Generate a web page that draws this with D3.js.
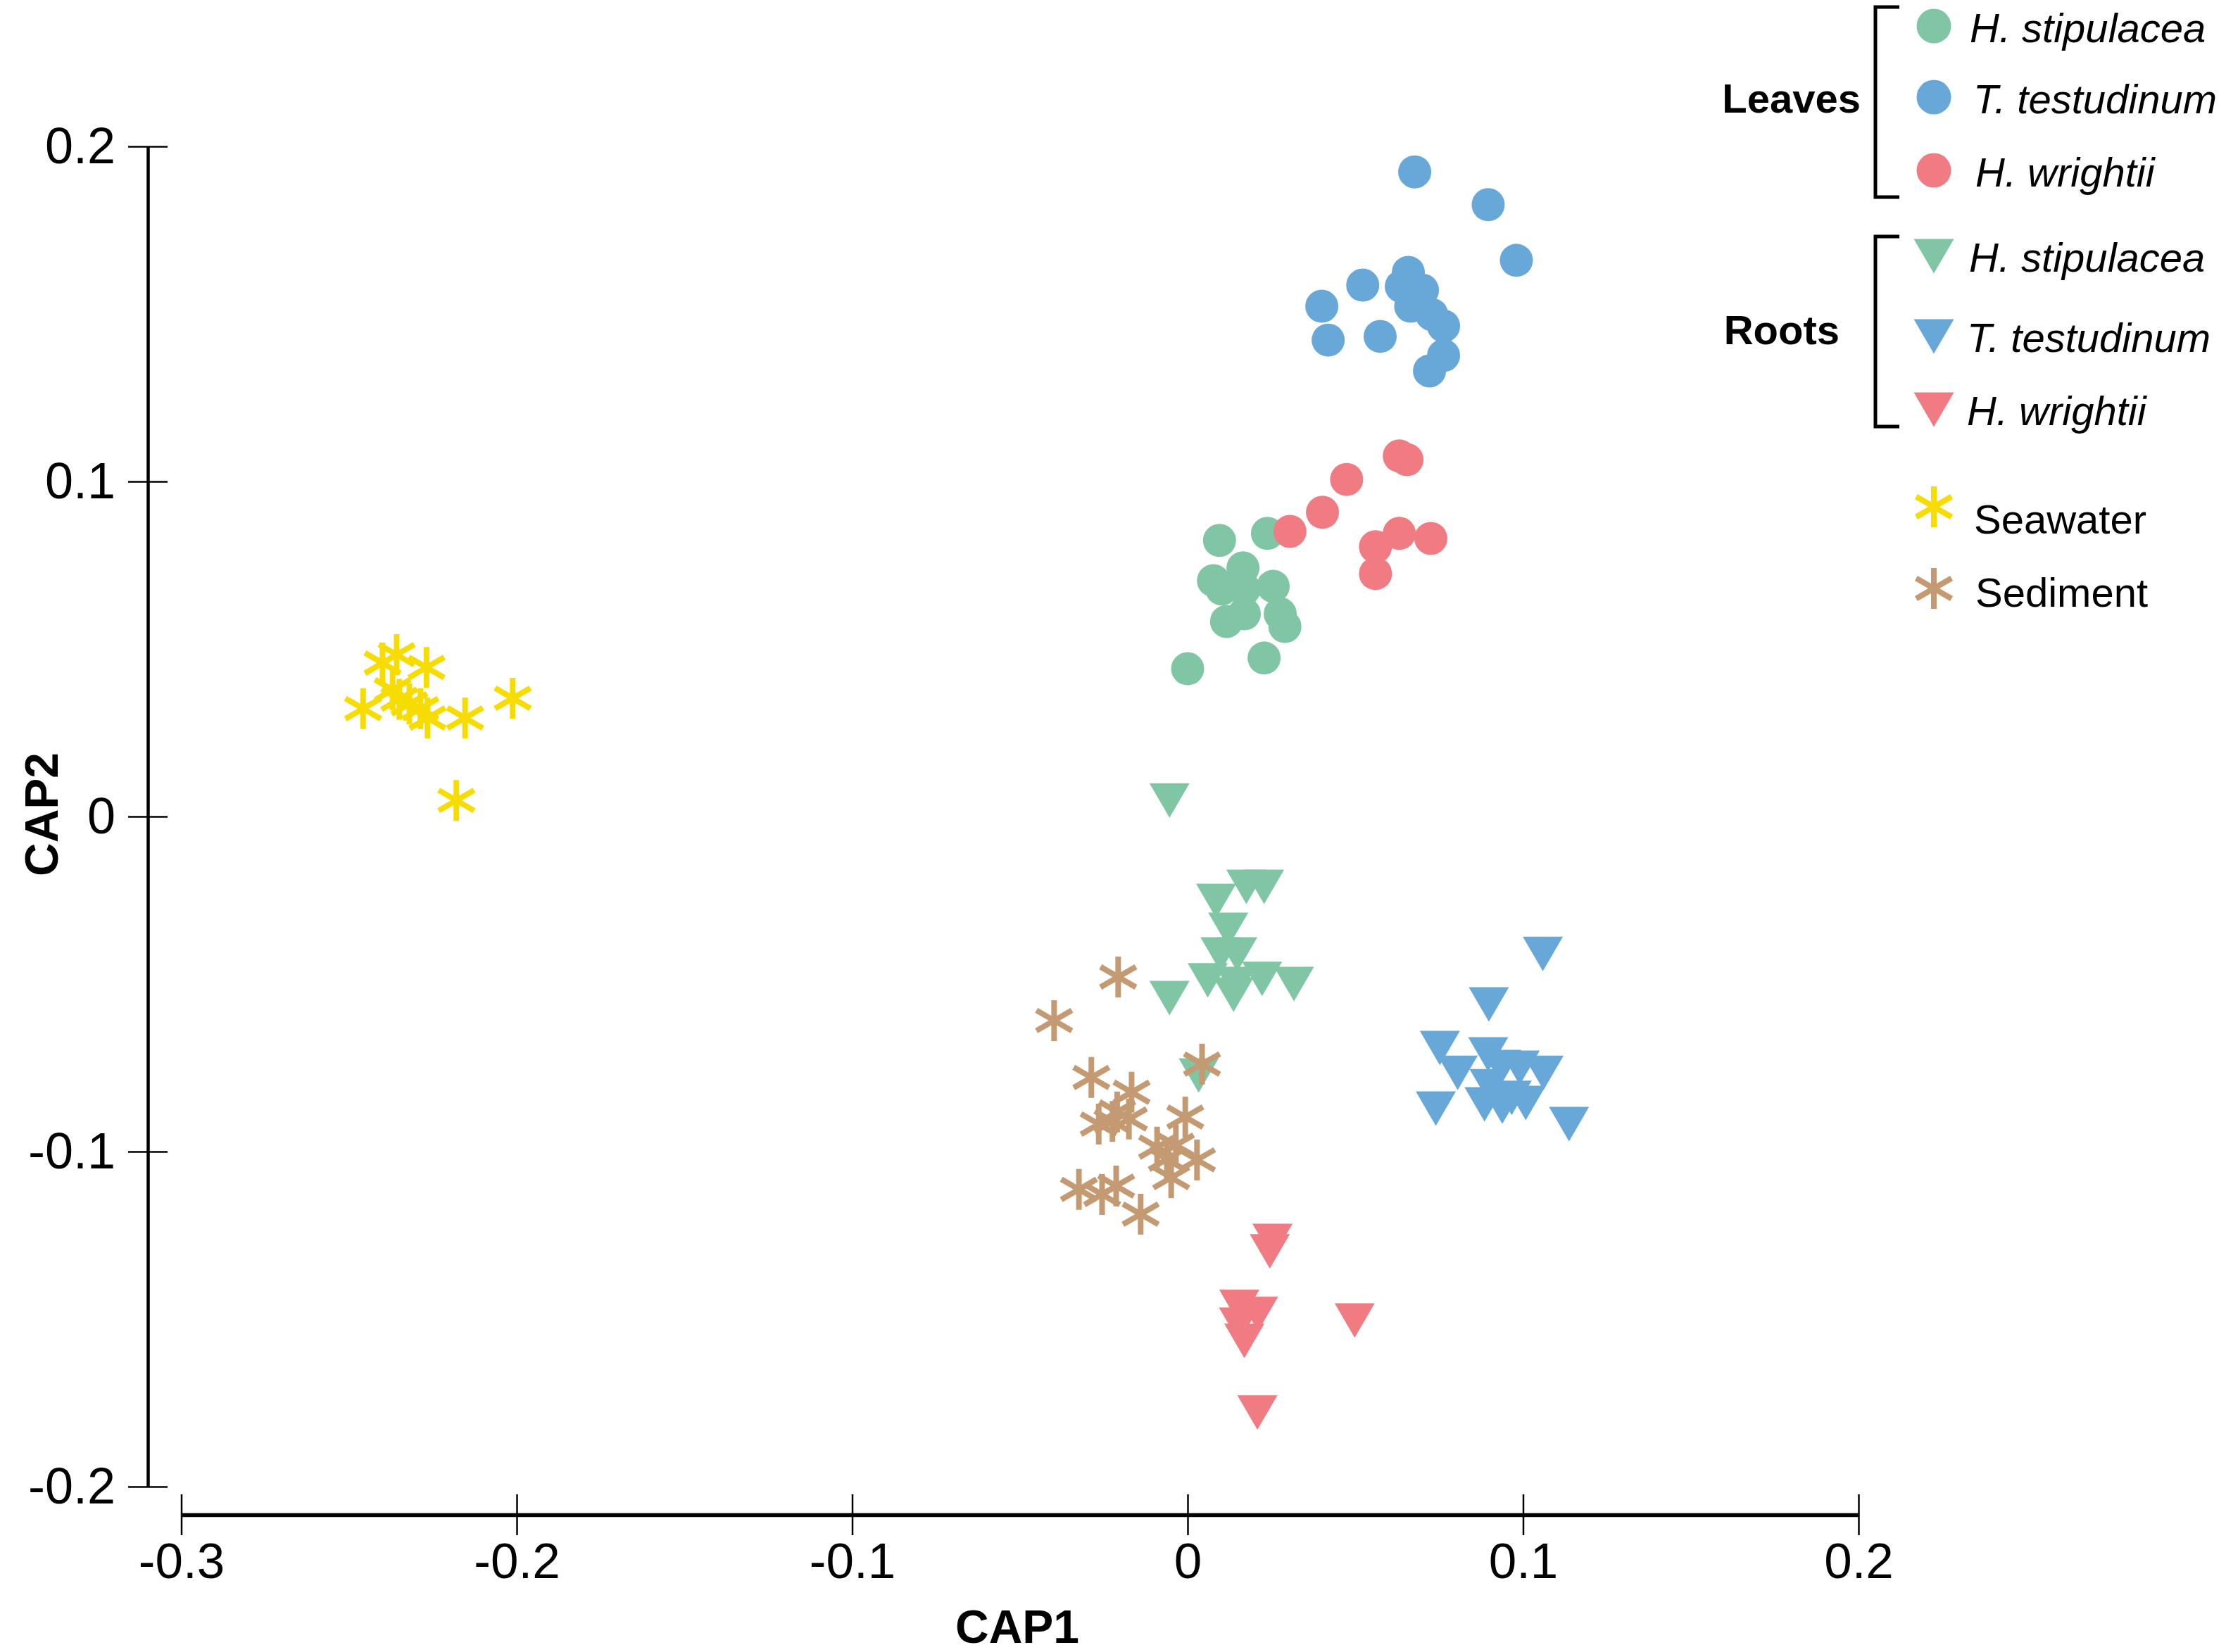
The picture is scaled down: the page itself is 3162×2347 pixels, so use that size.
<!DOCTYPE html>
<html>
<head>
<meta charset="utf-8">
<script src="https://cdn.jsdelivr.net/npm/d3@7"></script>
<style>
  html, body { margin: 0; padding: 0; background: #fff; }
  svg { display: block; }
  text { font-family: "Liberation Sans", Arial, Helvetica, sans-serif; fill: #000; }
</style>
</head>
<body>
<svg id="chart" width="3162" height="2347"></svg>
<script>
// ---------------- DATA ----------------
const xTicks = [-0.3, -0.2, -0.1, 0, 0.1, 0.2];
const yTicks = [-0.2, -0.1, 0, 0.1, 0.2];
const xTickLabels = ["-0.3", "-0.2", "-0.1", "0", "0.1", "0.2"];
const yTickLabels = ["-0.2", "-0.1", "0", "0.1", "0.2"];

// Leaves (circles)
const leavesHStipulacea = [
  [0.0095, 0.0824], [0.0238, 0.0845], [0.0165, 0.0742], [0.0077, 0.0704],
  [0.0102, 0.0679], [0.0255, 0.0687], [0.0169, 0.0679], [0.0169, 0.0605],
  [0.0116, 0.0582], [0.0276, 0.0605], [0.0290, 0.0567], [0.0228, 0.0473],
  [0.0000, 0.0441]
];
const leavesTTestudinum = [
  [0.0677, 0.1924], [0.0896, 0.1826], [0.0980, 0.1660], [0.0522, 0.1586],
  [0.0400, 0.1523], [0.0419, 0.1422], [0.0574, 0.1433], [0.0658, 0.1624],
  [0.0637, 0.1582], [0.0700, 0.1571], [0.0665, 0.1523], [0.0679, 0.1548],
  [0.0728, 0.1498], [0.0763, 0.1464], [0.0763, 0.1376], [0.0721, 0.1330]
];
const leavesHWrightii = [
  [0.0631, 0.1076], [0.0654, 0.1065], [0.0474, 0.1006], [0.0402, 0.0908],
  [0.0305, 0.0851], [0.0631, 0.0845], [0.0725, 0.0830], [0.0560, 0.0805],
  [0.0560, 0.0725]
];
// Roots (down triangles)
const rootsHStipulacea = [
  [-0.0054, 0.0048], [0.0175, -0.0210], [0.0228, -0.0210], [0.0085, -0.0252],
  [0.0121, -0.0338], [0.0098, -0.0412], [0.0148, -0.0412], [0.0060, -0.0489],
  [0.0144, -0.0500], [0.0222, -0.0485], [0.0317, -0.0500], [0.0137, -0.0532],
  [-0.0054, -0.0542], [0.0033, -0.0773]
];
const rootsTTestudinum = [
  [0.1059, -0.0410], [0.0898, -0.0561], [0.0752, -0.0691], [0.0896, -0.0710],
  [0.0805, -0.0765], [0.0990, -0.0750], [0.1061, -0.0765], [0.0935, -0.0748],
  [0.0900, -0.0805], [0.0885, -0.0859], [0.0938, -0.0866], [0.1008, -0.0855],
  [0.0966, -0.0840], [0.0740, -0.0872], [0.1137, -0.0918]
];
const rootsHWrightii = [
  [0.0253, -0.1267], [0.0245, -0.1298], [0.0154, -0.1464], [0.0210, -0.1485],
  [0.0153, -0.1517], [0.0169, -0.1565], [0.0498, -0.1504], [0.0208, -0.1779]
];
// Seawater & Sediment (asterisks)
const seawater = [
  [-0.2358, 0.0483], [-0.2400, 0.0458], [-0.2269, 0.0445], [-0.2458, 0.0322],
  [-0.2370, 0.0378], [-0.2350, 0.0350], [-0.2320, 0.0336], [-0.2287, 0.0322],
  [-0.2266, 0.0294], [-0.2154, 0.0294], [-0.2012, 0.0353], [-0.2180, 0.0048]
];
const sediment = [
  [-0.0207, -0.0479], [-0.0398, -0.0609], [-0.0287, -0.0779], [-0.0167, -0.0823],
  [0.0043, -0.0739], [-0.0007, -0.0897], [-0.0265, -0.0918], [-0.0224, -0.0910],
  [-0.0175, -0.0903], [-0.0210, -0.0882], [-0.0091, -0.0987], [-0.0035, -0.0981],
  [0.0028, -0.1025], [-0.0062, -0.1023], [-0.0049, -0.1078], [-0.0324, -0.1113],
  [-0.0255, -0.1128], [-0.0213, -0.1103], [-0.0140, -0.1187]
];

const colors = {
  green: "#80c6a5",
  blue: "#68a8d8",
  red: "#f07b83",
  yellow: "#f6dc00",
  brown: "#c39a72"
};

const legendLeaves = ["H. stipulacea", "T. testudinum", "H. wrightii"];
const legendRoots = ["H. stipulacea", "T. testudinum", "H. wrightii"];
const legendOther = ["Seawater", "Sediment"];

// ---------------- CHART ----------------
const svg = d3.select("#chart");
const x = d3.scaleLinear().domain([-0.3, 0.2]).range([257.5, 2640]);
const y = d3.scaleLinear().domain([-0.2, 0.2]).range([2112, 208]);

const R = 23.5;          // circle radius
const TW = 57, TH = 49;  // triangle width / height
const SL = 29;           // asterisk half-length
const SW = 8;            // asterisk stroke width

function triPath(cx, cy) {
  return `M${cx - TW / 2},${cy - TH / 2}L${cx + TW / 2},${cy - TH / 2}L${cx},${cy + TH / 2}Z`;
}
function starPath(cx, cy) {
  const a = Math.PI / 6;
  const dx = SL * Math.cos(a), dy = SL * Math.sin(a);
  return `M${cx},${cy - SL}L${cx},${cy + SL}` +
         `M${cx - dx},${cy - dy}L${cx + dx},${cy + dy}` +
         `M${cx - dx},${cy + dy}L${cx + dx},${cy - dy}`;
}

// Axes
const yAxis = d3.axisLeft(y).tickValues(yTicks)
  .tickFormat((d, i) => yTickLabels[i]).tickSizeInner(28).tickSizeOuter(0).tickPadding(18);
const gy = svg.append("g").attr("transform", "translate(210,0)").call(yAxis);
gy.select(".domain").attr("stroke", "#000").attr("stroke-width", 4.5);
gy.selectAll(".tick line").attr("x1", -28).attr("x2", 28).attr("stroke", "#000").attr("stroke-width", 2.5);
gy.selectAll(".tick text").attr("font-size", 72).attr("fill", "#000")
  .style("font-family", '"Liberation Sans", Arial, sans-serif');

const xAxis = d3.axisBottom(x).tickValues(xTicks)
  .tickFormat((d, i) => xTickLabels[i]).tickSizeInner(29).tickSizeOuter(0).tickPadding(11);
const gx = svg.append("g").attr("transform", "translate(0,2152)").call(xAxis);
gx.select(".domain").attr("stroke", "#000").attr("stroke-width", 5.5);
gx.selectAll(".tick line").attr("y1", -29).attr("y2", 29).attr("stroke", "#000").attr("stroke-width", 2.5);
gx.selectAll(".tick text").attr("font-size", 71).attr("fill", "#000")
  .style("font-family", '"Liberation Sans", Arial, sans-serif');

// Axis titles
svg.append("text").attr("x", 1445).attr("y", 2334).attr("text-anchor", "middle")
  .attr("font-size", 66).attr("font-weight", "bold").text("CAP1");
svg.append("text").attr("transform", "translate(82,1157) rotate(-90)").attr("text-anchor", "middle")
  .attr("font-size", 66).attr("font-weight", "bold").text("CAP2");

// Marks
const plot = svg.append("g");
function circles(data, color) {
  plot.append("g").selectAll("circle").data(data).join("circle")
    .attr("cx", d => x(d[0])).attr("cy", d => y(d[1])).attr("r", R).attr("fill", color);
}
function triangles(data, color) {
  plot.append("g").selectAll("path").data(data).join("path")
    .attr("d", d => triPath(x(d[0]), y(d[1]))).attr("fill", color);
}
function stars(data, color) {
  plot.append("g").selectAll("path").data(data).join("path")
    .attr("d", d => starPath(x(d[0]), y(d[1])))
    .attr("fill", "none").attr("stroke", color).attr("stroke-width", SW);
}
circles(leavesHStipulacea, colors.green);
circles(leavesTTestudinum, colors.blue);
circles(leavesHWrightii, colors.red);
triangles(rootsHStipulacea, colors.green);
triangles(rootsTTestudinum, colors.blue);
triangles(rootsHWrightii, colors.red);
stars(seawater, colors.yellow);
stars(sediment, colors.brown);

// Legend
const lg = svg.append("g");
const symX = 2747;
const bracketX = 2664, stubX = 2698;
function bracket(y0, y1) {
  lg.append("path").attr("d", `M${stubX},${y0}H${bracketX}V${y1}H${stubX}`)
    .attr("fill", "none").attr("stroke", "#000").attr("stroke-width", 5);
}
bracket(10, 280);
bracket(336, 606);

lg.append("text").attr("x", 2643).attr("y", 160).attr("text-anchor", "end")
  .attr("font-size", 58).attr("font-weight", "bold").text("Leaves");
lg.append("text").attr("x", 2613).attr("y", 489).attr("text-anchor", "end")
  .attr("font-size", 58).attr("font-weight", "bold").text("Roots");

const leafRowsY = [37, 138, 242];
const leafTextX = [2798, 2803, 2806];
const leafColors = [colors.green, colors.blue, colors.red];
legendLeaves.forEach((t, i) => {
  lg.append("circle").attr("cx", symX).attr("cy", leafRowsY[i]).attr("r", R + 1).attr("fill", leafColors[i]);
  lg.append("text").attr("x", leafTextX[i]).attr("y", leafRowsY[i] + 23)
    .attr("font-size", 58).attr("font-style", "italic").text(t);
});

const rootRowsY = [364, 478, 582];
const rootTextX = [2797, 2794, 2794];
legendRoots.forEach((t, i) => {
  lg.append("path").attr("d", triPath(symX, rootRowsY[i])).attr("fill", leafColors[i]);
  lg.append("text").attr("x", rootTextX[i]).attr("y", rootRowsY[i] + 22)
    .attr("font-size", 58).attr("font-style", "italic").text(t);
});

const otherRowsY = [720, 836];
const otherTextY = [758, 862];
const otherTextX = [2804, 2806];
const otherColors = [colors.yellow, colors.brown];
legendOther.forEach((t, i) => {
  lg.append("path").attr("d", starPath(symX, otherRowsY[i]))
    .attr("fill", "none").attr("stroke", otherColors[i]).attr("stroke-width", SW);
  lg.append("text").attr("x", otherTextX[i]).attr("y", otherTextY[i])
    .attr("font-size", 58).text(t);
});
</script>
</body>
</html>
